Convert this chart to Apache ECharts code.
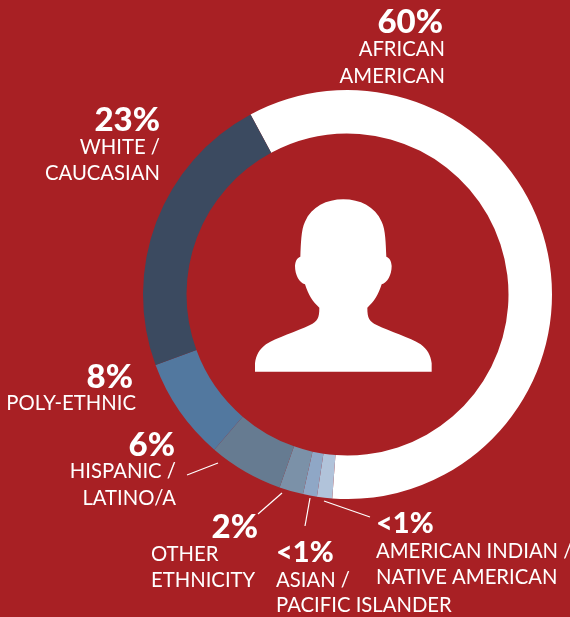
<!DOCTYPE html>
<html>
<head>
<meta charset="utf-8">
<style>
  html, body { margin: 0; padding: 0; background: #a82024; }
  #chart { width: 570px; height: 617px; }
</style>
</head>
<body>
<div id="chart"></div>
<script src="https://cdn.jsdelivr.net/npm/echarts@6/dist/echarts.min.js"></script>
<script>
// clockwise from the top left edge of the white slice
const categories = ["African American", "American Indian / Native American", "Asian / Pacific Islander", "Other ethnicity", "Hispanic / Latino/a", "Poly-ethnic", "White / Caucasian"];
const values = [59.05, 1.2, 1.1, 1.9, 5.9, 8.1, 22.75];
const colors = ["#ffffff", "#b1c3da", "#8fa7c6", "#7b91a8", "#667b91", "#52789f", "#3b4a60"];
const percentLabels = ["60%", "<1%", "<1%", "2%", "6%", "8%", "23%"];

const fontFamily = "Lato";
const bg = "#a82024";

// [text, x, centre y, align, size]
const bigLabels = [
  [percentLabels[0], 443, 22, "right", 33],
  [percentLabels[6], 160, 120, "right", 33],
  [percentLabels[5], 133, 377, "right", 33],
  [percentLabels[4], 175, 445, "right", 33],
  [percentLabels[3], 258, 527, "right", 33],
  [percentLabels[2], 276, 553, "left", 29],
  [percentLabels[1], 376, 524, "left", 29]
];
const smallLabels = [
  ["AFRICAN", 445, 49, "right"],
  ["AMERICAN", 445, 76, "right"],
  ["WHITE /", 160, 147, "right"],
  ["CAUCASIAN", 160, 173, "right"],
  ["POLY-ETHNIC", 136, 403, "right"],
  ["HISPANIC /", 176, 471, "right"],
  ["LATINO/A", 176, 498, "right"],
  ["OTHER", 151, 554, "left"],
  ["ETHNICITY", 151, 580, "left"],
  ["ASIAN /", 276, 580, "left"],
  ["PACIFIC ISLANDER", 276, 605, "left"],
  ["AMERICAN INDIAN /", 376, 551, "left"],
  ["NATIVE AMERICAN", 376, 577, "left"]
];
const leaderLines = [
  [187, 475, 218, 463],
  [258, 514, 282, 493],
  [305, 526, 310, 498],
  [370, 517, 324, 501]
];
// person icon, drawn in the 3x zoom space and scaled down
const personPath = "M45 545 L45 520 C48 495 58 478 78 463 C110 442 170 425 210 405 C232 394 238 385 238 353 C218 335 205 315 195 283 C178 278 165 255 165 228 C166 212 172 203 181 200 C183 160 183 120 195 95 C215 50 260 28 310 28 C360 28 405 50 425 95 C437 120 437 160 439 200 C448 203 454 212 455 228 C455 255 442 278 425 283 C415 315 402 335 382 353 C382 385 388 394 410 405 C450 425 510 442 542 463 C562 478 572 495 575 520 L575 545 Z";
echarts.graphic.registerShape("person", echarts.graphic.extendPath(personPath));

const elements = [];
leaderLines.forEach(l => {
  elements.push({
    type: "line",
    shape: { x1: l[0], y1: l[1], x2: l[2], y2: l[3] },
    style: { stroke: "#ffffff", lineWidth: 1.2 }
  });
});
elements.push({
  type: "person",
  x: 240, y: 190, scaleX: 1 / 3, scaleY: 1 / 3,
  style: { fill: "#ffffff" }
});
bigLabels.forEach(t => {
  elements.push({
    type: "text", x: t[1], y: t[2],
    style: { text: t[0], fill: "#ffffff", font: "900 " + t[4] + "px " + fontFamily, textAlign: t[3], textVerticalAlign: "middle" }
  });
});
smallLabels.forEach(t => {
  elements.push({
    type: "text", x: t[1], y: t[2],
    style: { text: t[0], fill: "#ffffff", font: "400 20.3px " + fontFamily, textAlign: t[3], textVerticalAlign: "middle" }
  });
});

const myChart = echarts.init(document.getElementById("chart"));
myChart.setOption({
  backgroundColor: bg,
  animation: false,
  series: [
    {
      type: "pie",
      center: [347.5, 294.5],
      radius: [161, 204.5],
      startAngle: 118.3,
      clockwise: true,
      silent: true,
      label: { show: false },
      labelLine: { show: false },
      data: categories.map((name, i) => ({
        name: name,
        value: values[i],
        itemStyle: { color: colors[i] }
      }))
    }
  ],
  graphic: { elements: elements }
});
</script>
</body>
</html>
